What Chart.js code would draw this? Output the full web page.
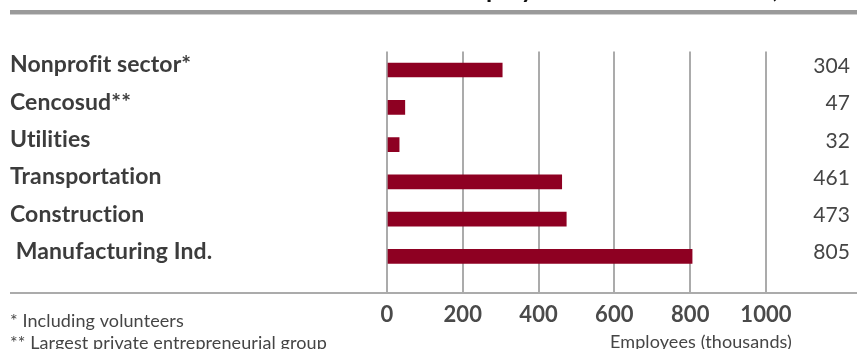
<!DOCTYPE html>
<html>
<head>
<meta charset="utf-8">
<script src="https://cdn.jsdelivr.net/npm/chart.js@4/dist/chart.umd.min.js"></script>
<style>
  html, body { margin: 0; padding: 0; background: #ffffff; }
  #wrap { width: 857px; height: 349px; position: relative; }
</style>
</head>
<body>
<div id="wrap"><canvas id="chart" width="857" height="349"></canvas></div>
<script>
// Employment by sector, thousands of people
const sectors = [
  'Nonprofit sector*',
  'Cencosud**',
  'Utilities',
  'Transportation',
  'Construction',
  ' Manufacturing Ind.'
];
const employees = [304, 47, 32, 461, 473, 805];
const axisTicks = [0, 200, 400, 600, 800, 1000];

const titleText = 'Cencosud vs. Employment in other sectors, Chile';
const axisTitle = 'Employees (thousands)';
const footnotes = ['* Including volunteers', '** Largest private entrepreneurial group'];

const FONT = 'Lato, "Open Sans", sans-serif';
const BAR = '#8e0022';
const GRID = '#ababab';

// Header rule, bottom rule, value labels and notes
const decorations = {
  id: 'decorations',
  beforeDraw(chart) {
    const ctx = chart.ctx;
    // tiny tracking keeps "ti" from turning into a ligature
    if ('letterSpacing' in ctx) ctx.letterSpacing = '0.1px';
    ctx.save();
    // clipped title above the rule
    ctx.font = 'bold 25px ' + FONT;
    ctx.fillStyle = '#111111';
    ctx.textAlign = 'left';
    ctx.textBaseline = 'alphabetic';
    const pre = titleText.slice(0, titleText.indexOf('Employ') + 2);
    ctx.fillText(titleText, 486 - ctx.measureText(pre).width, -2);
    // header rule
    ctx.fillStyle = '#9a9a9a';
    ctx.fillRect(10, 10, 847, 4);
    ctx.fillStyle = '#cfcfcf';
    ctx.fillRect(10, 14, 847, 1);
    ctx.restore();
  },
  afterDatasetsDraw(chart) {
    const ctx = chart.ctx;
    const meta = chart.getDatasetMeta(0);
    ctx.save();
    // bottom rule
    ctx.strokeStyle = GRID;
    ctx.lineWidth = 2;
    ctx.beginPath();
    ctx.moveTo(10, 293);
    ctx.lineTo(857, 293);
    ctx.stroke();
    // value labels on the right
    ctx.font = '21px ' + FONT;
    ctx.fillStyle = '#454545';
    ctx.textAlign = 'right';
    ctx.textBaseline = 'alphabetic';
    meta.data.forEach((bar, i) => {
      ctx.fillText(String(chart.data.datasets[0].data[i]), 850, bar.y + 3);
    });
    // axis title
    ctx.font = '18px ' + FONT;
    ctx.fillText(axisTitle, 792, 348);
    // footnotes
    ctx.textAlign = 'left';
    ctx.fillText(footnotes[0], 10, 327);
    ctx.fillText(footnotes[1], 10, 349);
    ctx.restore();
  }
};

new Chart(document.getElementById('chart'), {
  type: 'bar',
  data: {
    labels: sectors,
    datasets: [{
      data: employees,
      backgroundColor: BAR,
      borderWidth: 0,
      barThickness: 14
    }]
  },
  options: {
    indexAxis: 'y',
    responsive: false,
    animation: false,
    layout: { padding: { left: 10, right: 91, top: 51.4, bottom: 0 } },
    plugins: {
      legend: { display: false },
      tooltip: { enabled: false },
      title: { display: false }
    },
    scales: {
      x: {
        type: 'linear',
        position: 'bottom',
        min: axisTicks[0],
        max: axisTicks[axisTicks.length - 1],
        afterBuildTicks(scale) {
          scale.ticks = axisTicks.map(v => ({ value: v }));
        },
        afterFit(scale) { scale.height = 74; },
        grid: {
          color: GRID,
          lineWidth: 2,
          drawTicks: true,
          tickLength: 18,
          tickColor: GRID
        },
        border: { display: false },
        ticks: {
          padding: 9,
          color: '#4a4a4a',
          font: { family: FONT, size: 22, weight: 'bold' },
          callback: v => String(v)
        }
      },
      y: {
        type: 'category',
        position: 'left',
        afterFit(scale) { scale.width = 377; },
        grid: { display: false },
        border: { display: false },
        ticks: {
          crossAlign: 'far',
          padding: 0,
          labelOffset: -5,
          color: '#3c3c3c',
          font: { family: FONT, size: 23, weight: 'bold' }
        }
      }
    }
  },
  plugins: [decorations]
});
</script>
</body>
</html>
